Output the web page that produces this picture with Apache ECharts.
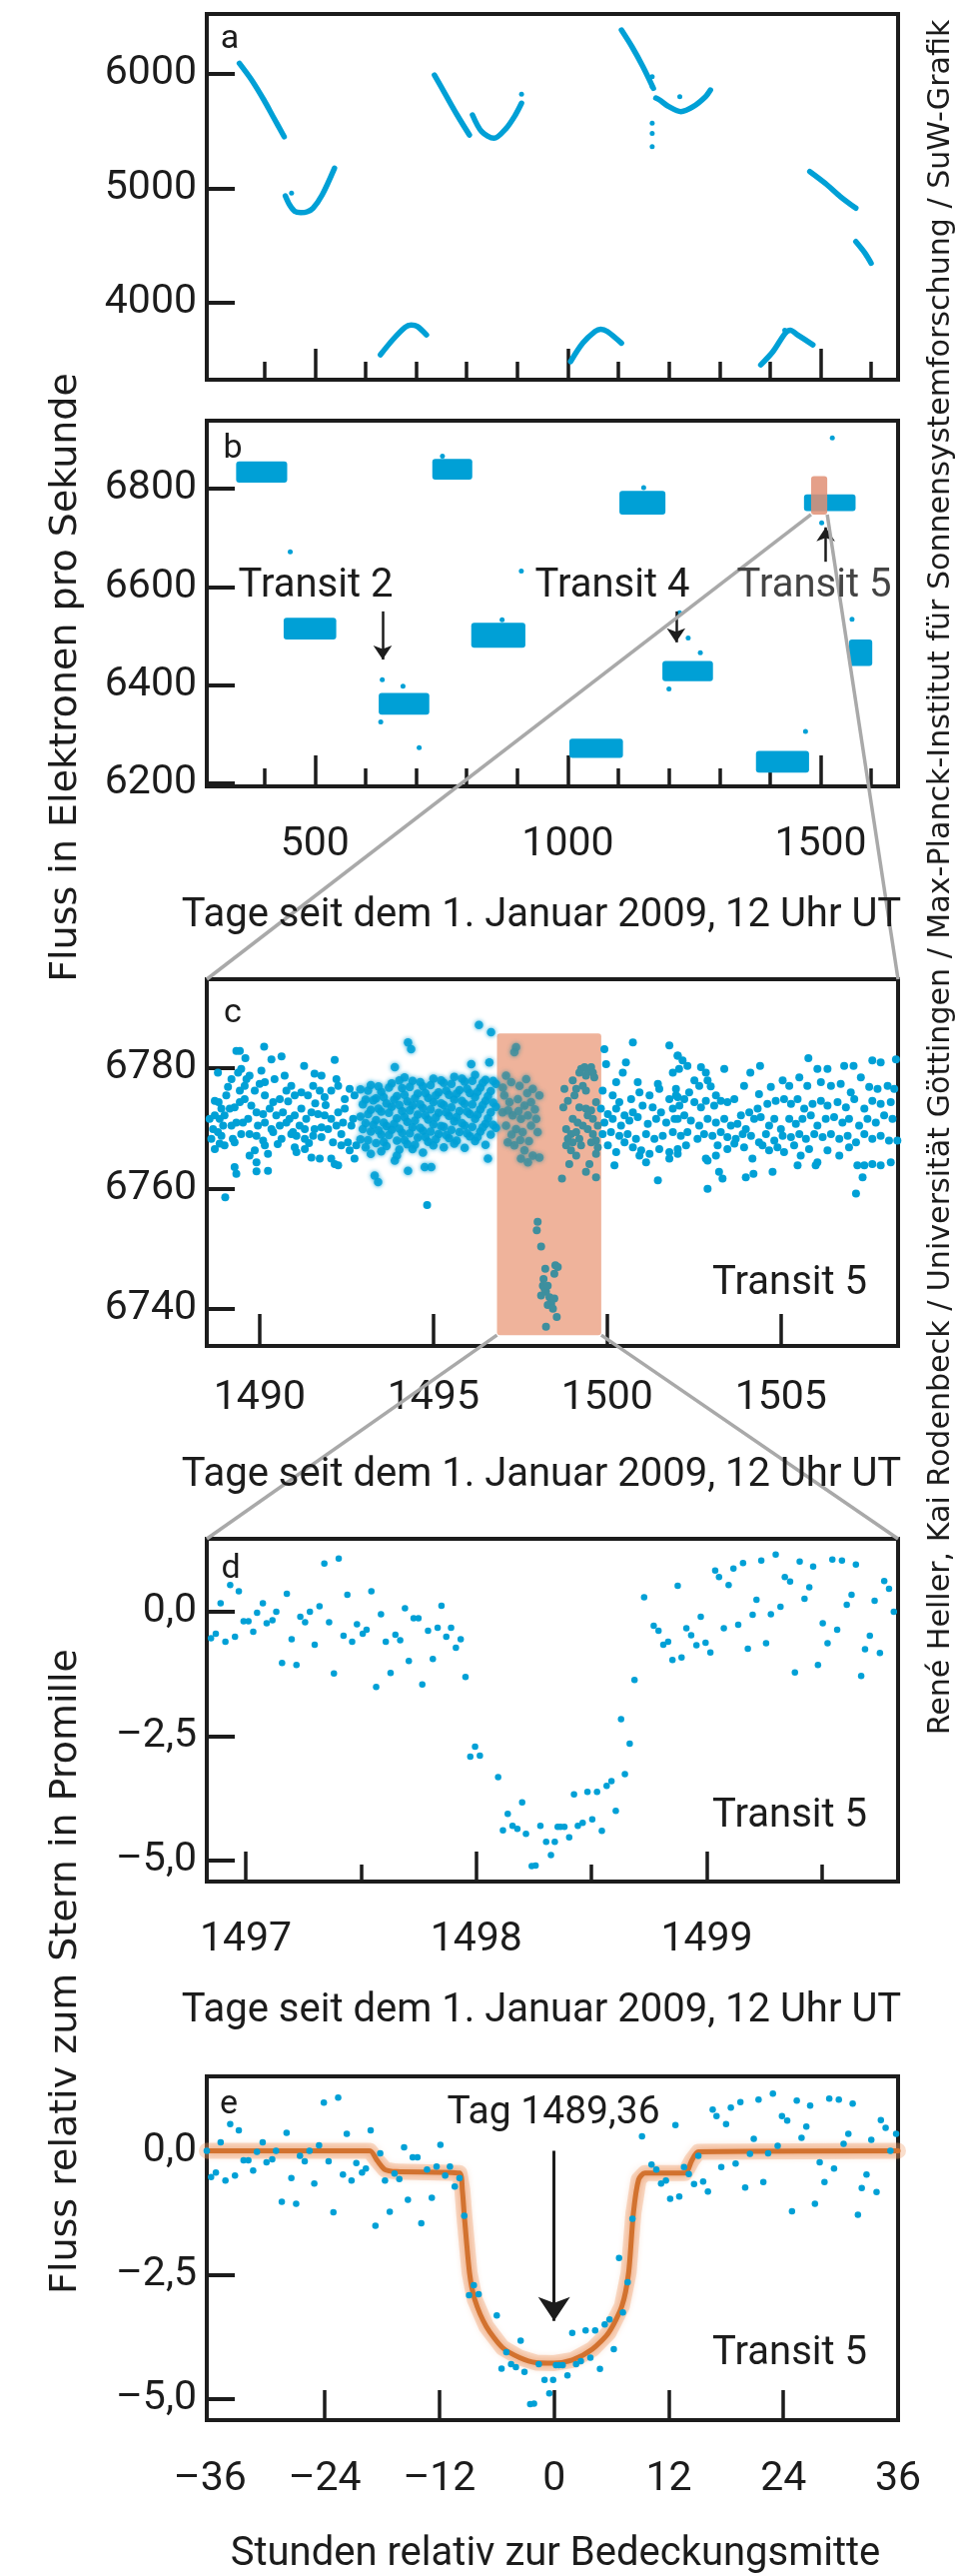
<!DOCTYPE html>
<html><head><meta charset="utf-8">
<script src="https://cdn.jsdelivr.net/npm/echarts@6/dist/echarts.min.js"></script>
<style>html,body{margin:0;padding:0;background:#fff}#c{width:958px;height:2578px}</style>
</head><body><div id="c"></div>
<script>
const BLUE = '#00a0d6', TEAL = '#3e8f9e', INK = '#1c1c1c', ORANGE_BOX = '#efb39b';

// ---------- Panel a : raw light curve segments (day, electrons/s)
const aQ1 = [[350.5,6093],[374.6,5948],[398.9,5773],[417.1,5627],[439.0,5452]];
const aQ2 = [[441.4,4934],[449.8,4856],[460,4800],[471.7,4789],[484,4795],[496.1,4827],[514.2,4943],[538.5,5176]];
const aQ3 = [[629.4,3546],[653.7,3677],[677.9,3785],[690,3805],[702.2,3794],[720.4,3720]];
const aQ4 = [[736.2,5991],[756.7,5831],[781.0,5642],[805.3,5467]];
const aQ5 = [[811.4,5642],[829.6,5496],[853.9,5438],[878.2,5526],[896.3,5642],[908.4,5744]];
const aQ6 = [[1005.5,3487],[1029.6,3648],[1053.9,3750],[1065,3770],[1078.2,3750],[1106.0,3648]];
const aQ7 = [[1106.0,6384],[1126.8,6238],[1148.5,6064],[1169.2,5875]];
const aQ7b = [[1174,5790],[1181.3,5773],[1199.5,5715],[1223.7,5671],[1248.0,5715],[1272.3,5802],[1282.0,5860]];
const aQ8 = [[1478.5,5147],[1508.9,5045],[1539.1,4928],[1569.5,4827]];
const aQ9 = [[1569.5,4535],[1587.7,4434],[1599.7,4347]];
const aQ10 = [[1381.5,3458],[1405.8,3575],[1429.9,3735],[1440,3760],[1454.2,3720],[1484.6,3633]];
const aDots = [[453.6,4958],[908.4,5823],[1166.8,5977],[1166.8,5889],[1166.8,5569],[1166.8,5365],[1166.8,5480],[1221.4,5802],[1429,3760]];

// ---------- Panel b : quarter blocks [day0, day1, fluxLow, fluxHigh]
const bBlocks = [
  [344,445,6812,6855],[438,542,6493,6537],[626,726,6340,6384],[732,811,6818,6860],
  [809,916,6476,6527],[1003,1109,6252,6291],[1102,1193,6747,6795],[1187,1287,6408,6449],
  [1372,1477,6222,6266],[1467,1569,6754,6788],[1556,1602,6439,6493]
];
const bOutliers = [[451,6671],[633,6411],[674,6398],[706,6273],[630,6325],[908,6632],[1221,6547],[1238,6496],
  [1200,6392],[1262,6466],[1523,6903],[1470,6306],[1562,6534],[1502,6730],[752,6866],[1150,6802],[870,6533]];
const bZoomBox = [1481,1513,6747,6825];

// ---------- Panel c : zoom on transit 5 (day, electrons/s)
const cBlue = [
[1488.80,6779.3],[1489.33,6782.9],[1489.43,6782.9],[1490.13,6783.6],[1489.59,6781.7],[1490.34,6781.5],[1490.63,6782.0],[1491.28,6780.4],[1492.16,6781.4],
[1488.82,6774.4],[1488.71,6774.6],[1488.90,6773.3],[1489.04,6775.5],[1489.19,6778.2],[1489.38,6779.3],[1489.47,6779.9],[1489.62,6778.2],[1489.71,6778.8],[1489.86,6776.3],[1490.05,6779.6],[1490.00,6777.4],[1490.15,6777.7],[1490.43,6778.2],[1490.72,6778.8],[1490.91,6777.1],[1490.77,6776.3],[1491.01,6775.5],[1491.20,6776.0],[1491.39,6775.5],[1491.58,6779.1],[1491.78,6778.8],[1491.54,6777.1],[1491.73,6776.3],[1491.87,6775.2],[1492.06,6776.3],[1492.21,6778.2],[1492.26,6777.1],[1492.45,6774.9],[1492.59,6776.6],[1492.73,6775.5],
[1488.71,6772.2],[1488.85,6771.6],[1488.99,6772.2],[1489.14,6773.3],[1489.28,6773.5],[1489.43,6774.4],[1489.57,6774.9],[1489.76,6773.8],[1489.91,6772.7],[1490.10,6772.4],[1490.29,6773.3],[1490.48,6772.2],[1490.67,6772.7],[1490.86,6771.6],[1491.01,6772.2],[1491.20,6773.3],[1491.34,6771.6],[1491.49,6772.7],[1491.68,6772.4],[1491.87,6772.2],[1492.06,6771.6],[1492.26,6772.7],[1492.45,6773.3],[1492.69,6771.6],
[1488.66,6769.9],[1488.80,6769.4],[1488.95,6770.5],[1489.19,6770.5],[1489.33,6771.0],[1489.52,6771.0],[1489.67,6771.6],[1489.95,6770.5],[1490.15,6771.0],[1490.34,6769.9],[1490.58,6770.5],[1490.77,6771.0],[1490.96,6769.4],[1491.15,6770.5],[1491.30,6769.9],[1491.58,6769.9],[1491.78,6770.2],[1491.97,6769.9],[1492.21,6770.5],[1492.40,6771.0],[1492.64,6770.5],
[1488.61,6768.3],[1488.90,6768.8],[1489.23,6768.3],[1489.47,6769.1],[1489.71,6769.1],[1489.91,6768.8],[1490.10,6768.0],[1490.39,6769.4],[1490.63,6768.3],[1490.91,6769.1],[1491.06,6768.8],[1491.30,6768.3],[1491.54,6768.8],[1491.78,6768.6],[1492.11,6767.7],[1492.35,6769.1],[1492.54,6767.7],[1492.78,6767.2],
[1488.71,6766.6],[1488.85,6767.5],[1488.99,6767.2],[1489.28,6767.7],[1489.86,6766.4],[1490.15,6767.2],[1490.24,6765.8],[1491.01,6766.9],[1491.06,6766.1],[1491.30,6766.6],[1491.49,6765.2],[1491.73,6765.0],[1492.06,6765.0],[1492.35,6767.2],[1492.59,6766.4],[1492.73,6765.0],[1492.16,6764.1],[1492.26,6763.9],
[1489.28,6763.6],[1489.33,6762.5],[1489.71,6765.5],[1489.91,6764.4],[1489.91,6762.9],[1490.24,6763.0],[1489.01,6758.6],
[1488.56,6771.6],[1489.43,6776.3],[1489.57,6777.1],[1490.15,6775.5],[1490.39,6774.4],[1490.58,6774.9],[1489.09,6776.9],[1490.52,6767.4],[1491.42,6767.6],[1491.90,6773.9],[1490.82,6774.5],[1491.60,6774.2],
[1499.92,6783.2],[1500.74,6784.3],[1501.79,6783.8],[1502.03,6782.1],[1499.97,6780.7],[1500.54,6781.0],[1500.45,6779.3],[1500.88,6777.7],[1500.26,6777.7],[1501.89,6779.3],[1501.46,6777.4],[1501.98,6776.6],
[1499.87,6776.3],[1500.16,6775.5],[1500.35,6774.4],[1500.69,6774.9],[1500.93,6776.0],[1501.22,6775.5],[1501.50,6776.6],[1501.79,6774.9],[1502.03,6775.2],
[1499.82,6773.3],[1500.02,6772.4],[1500.26,6773.3],[1500.50,6772.2],[1500.74,6772.7],[1501.02,6773.8],[1501.31,6773.5],[1501.55,6772.7],[1501.89,6773.3],[1502.08,6773.8],
[1499.92,6771.0],[1500.16,6771.6],[1500.40,6770.5],[1500.64,6771.3],[1500.88,6771.9],[1501.17,6770.8],[1501.41,6771.6],[1501.70,6771.0],[1501.94,6771.6],
[1499.87,6769.1],[1500.11,6769.4],[1500.35,6768.8],[1500.59,6769.1],[1500.83,6768.3],[1501.12,6769.1],[1501.36,6768.3],[1501.60,6768.8],[1501.89,6769.4],
[1500.02,6767.2],[1500.26,6766.1],[1500.50,6767.7],[1500.74,6766.9],[1500.98,6766.4],[1501.22,6765.8],[1501.50,6766.6],[1501.79,6766.1],[1502.03,6766.6],
[1500.21,6763.9],[1500.93,6765.5],[1501.12,6764.4],[1501.46,6761.4],[1501.79,6765.0],
[1502.03,6782.1],[1502.17,6781.3],[1502.07,6779.9],[1502.31,6780.4],[1502.70,6780.2],[1502.84,6779.3],[1503.37,6779.9],[1504.12,6779.3],[1504.40,6780.4],[1505.79,6781.7],[1506.05,6779.9],[1506.34,6779.9],[1506.82,6780.4],[1507.09,6780.4],[1507.63,6781.3],[1507.87,6781.0],[1508.31,6781.5],
[1502.51,6778.0],[1502.65,6777.1],[1502.89,6778.0],[1502.98,6777.0],[1503.13,6775.5],[1503.94,6777.1],[1504.37,6775.7],[1504.71,6776.9],[1505.05,6778.0],[1505.24,6777.1],[1505.53,6778.5],[1505.76,6777.1],[1506.15,6777.7],[1506.44,6777.1],[1506.72,6777.4],[1507.01,6776.0],[1507.30,6778.5],[1507.54,6776.9],[1507.78,6776.6],[1508.07,6777.1],[1508.26,6776.6],
[1501.98,6775.5],[1502.22,6774.9],[1502.36,6776.0],[1502.51,6774.4],[1502.70,6773.5],[1502.84,6774.6],[1503.08,6773.8],[1503.27,6774.6],[1503.46,6774.4],[1503.66,6774.9],[1503.85,6772.2],[1504.09,6772.7],[1504.33,6773.3],[1504.61,6774.1],[1504.85,6774.6],[1505.09,6774.9],[1505.29,6774.1],[1505.48,6774.9],[1505.67,6773.3],[1505.91,6774.1],[1506.15,6774.6],[1506.34,6773.8],[1506.63,6774.4],[1506.87,6773.5],[1507.11,6774.9],[1507.40,6773.3],[1507.63,6774.6],[1507.87,6774.1],[1508.16,6774.4],
[1502.03,6771.6],[1502.22,6772.2],[1502.41,6771.3],[1502.65,6770.5],[1502.89,6771.6],[1503.13,6771.0],[1503.37,6771.6],[1503.56,6770.5],[1503.75,6770.8],[1503.99,6769.9],[1504.23,6771.6],[1504.42,6771.9],[1504.66,6770.5],[1504.81,6771.6],[1505.00,6769.9],[1505.24,6771.6],[1505.43,6770.8],[1505.62,6771.6],[1505.86,6772.2],[1506.05,6770.5],[1506.29,6771.6],[1506.53,6771.9],[1506.77,6771.0],[1506.96,6771.6],[1507.25,6770.5],[1507.49,6771.6],[1507.73,6771.0],[1507.97,6772.2],[1508.21,6771.6],
[1502.12,6768.8],[1502.31,6769.4],[1502.60,6768.3],[1502.79,6769.1],[1503.03,6768.8],[1503.27,6769.4],[1503.46,6768.6],[1503.70,6768.3],[1503.90,6769.1],[1504.14,6768.8],[1504.37,6767.7],[1504.57,6769.1],[1504.81,6768.0],[1505.05,6768.8],[1505.29,6768.6],[1505.53,6769.1],[1505.72,6768.3],[1505.96,6769.1],[1506.20,6768.6],[1506.44,6769.1],[1506.68,6768.3],[1506.92,6768.8],[1507.16,6767.7],[1507.40,6769.1],[1507.63,6768.3],[1507.87,6768.8],[1508.11,6768.0],[1508.35,6768.0],
[1502.03,6765.8],[1502.27,6767.2],[1502.84,6765.0],[1503.13,6765.5],[1503.18,6767.2],[1503.46,6766.6],[1503.66,6767.5],[1503.94,6766.9],[1504.18,6765.0],[1504.47,6767.2],[1504.66,6766.4],[1504.90,6766.9],[1505.09,6766.1],[1505.38,6767.2],[1505.57,6765.5],[1505.81,6766.6],[1506.05,6764.4],[1506.34,6766.4],[1506.68,6765.5],[1506.96,6766.9],[1507.20,6763.9],[1507.40,6763.9],[1507.63,6764.1],[1507.87,6763.9],[1508.16,6764.4],
[1502.89,6764.7],[1503.22,6762.8],[1503.32,6761.7],[1503.99,6761.9],[1504.21,6762.5],[1504.76,6762.8],[1505.48,6763.9],[1506.00,6763.9],[1502.89,6760.0],[1507.16,6759.2],[1507.35,6761.9]
];
// blurred (re-sampled) part of the original figure
const cBlur = [
[1494.27,6784.3],[1494.36,6783.2],[1493.89,6780.2],[1494.17,6778.5],[1496.31,6787.2],[1496.66,6786.0],[1496.09,6780.7],[1496.61,6781.0],
[1493.31,6762.2],[1493.41,6761.1],[1493.89,6764.7],[1494.27,6763.0],[1494.75,6763.6],[1494.94,6763.6],[1496.57,6765.0],
[1492.90,6776.5],[1492.90,6772.0],[1492.90,6768.2],[1493.05,6774.8],[1493.05,6770.9],[1493.05,6766.9],
[1493.20,6777.2],[1493.20,6773.1],[1493.20,6769.5],[1493.20,6765.8],[1493.35,6775.0],[1493.35,6771.4],[1493.35,6767.6],
[1493.50,6776.1],[1493.50,6772.8],[1493.50,6769.0],[1493.50,6766.2],[1493.65,6774.2],[1493.65,6770.4],[1493.65,6767.1],
[1493.80,6777.5],[1493.80,6773.6],[1493.80,6769.8],[1493.95,6775.4],[1493.95,6771.7],[1493.95,6768.0],[1493.95,6765.5],
[1494.10,6776.7],[1494.10,6772.9],[1494.10,6769.3],[1494.25,6774.5],[1494.25,6771.1],[1494.25,6767.4],
[1494.40,6777.9],[1494.40,6773.8],[1494.40,6770.2],[1494.40,6766.6],[1494.55,6775.8],[1494.55,6772.3],[1494.55,6768.5],
[1494.70,6777.0],[1494.70,6773.4],[1494.70,6769.6],[1494.70,6766.0],[1494.85,6775.1],[1494.85,6771.5],[1494.85,6767.8],
[1495.00,6778.3],[1495.00,6774.4],[1495.00,6770.7],[1495.00,6767.2],[1495.15,6776.0],[1495.15,6772.6],[1495.15,6769.1],
[1495.30,6777.6],[1495.30,6773.9],[1495.30,6770.3],[1495.30,6766.9],[1495.45,6775.6],[1495.45,6772.1],[1495.45,6768.4],
[1495.60,6778.6],[1495.60,6774.8],[1495.60,6771.2],[1495.60,6767.5],[1495.75,6776.4],[1495.75,6772.9],[1495.75,6769.4],
[1495.90,6777.8],[1495.90,6774.1],[1495.90,6770.5],[1495.90,6766.8],[1496.05,6775.9],[1496.05,6772.4],[1496.05,6768.7],
[1496.20,6778.9],[1496.20,6775.2],[1496.20,6771.6],[1496.20,6767.9],[1496.35,6776.8],[1496.35,6773.2],[1496.35,6769.5],
[1496.50,6778.1],[1496.50,6774.6],[1496.50,6770.8],[1496.50,6767.3],[1496.65,6776.2],[1496.65,6772.7],[1496.65,6769.0],
[1496.80,6777.4],[1496.80,6773.6],[1496.80,6770.1],
[1492.97,6774.0],[1492.97,6769.9],[1493.12,6776.3],[1493.12,6772.4],[1493.12,6768.1],[1493.27,6774.7],[1493.27,6770.6],
[1493.42,6777.0],[1493.42,6773.3],[1493.42,6769.7],[1493.57,6775.2],[1493.57,6771.0],[1493.57,6767.8],[1493.72,6776.8],
[1493.72,6772.6],[1493.72,6768.9],[1493.87,6774.8],[1493.87,6770.8],[1494.02,6778.0],[1494.02,6773.9],[1494.02,6770.0],
[1494.02,6766.5],[1494.17,6775.6],[1494.17,6771.9],[1494.17,6768.1],[1494.32,6776.9],[1494.32,6773.0],[1494.32,6769.2],
[1494.47,6775.0],[1494.47,6771.3],[1494.47,6767.3],[1494.62,6777.7],[1494.62,6774.0],[1494.62,6770.1],[1494.77,6775.9],
[1494.77,6772.2],[1494.77,6768.6],[1494.92,6777.2],[1494.92,6773.2],[1494.92,6769.5],[1495.07,6775.5],[1495.07,6771.8],
[1495.07,6768.2],[1495.22,6778.0],[1495.22,6774.2],[1495.22,6770.4],[1495.37,6776.3],[1495.37,6772.7],[1495.37,6768.9],
[1495.52,6777.4],[1495.52,6773.5],[1495.52,6769.8],[1495.67,6775.8],[1495.67,6771.9],[1495.67,6768.0],[1495.82,6778.3],
[1495.82,6774.6],[1495.82,6770.9],[1495.97,6776.6],[1495.97,6772.8],[1495.97,6769.2],[1496.12,6777.9],[1496.12,6774.0],
[1496.12,6770.3],[1496.27,6776.1],[1496.27,6772.3],[1496.27,6768.6],[1496.42,6777.6],[1496.42,6773.9],[1496.42,6770.2],
[1496.57,6775.4],[1496.57,6771.7],[1496.72,6777.9],[1496.72,6774.3],[1496.72,6770.6]
];
const cPoint = [[1494.82,6757.3]];
const cTealBlur = [
[1497.38,6783.5],[1497.33,6782.7],[1497.09,6778.8],[1497.24,6777.7],[1497.48,6777.1],[1497.67,6778.2],[1497.86,6776.6],
[1497.04,6775.5],[1497.19,6774.4],[1497.43,6774.9],[1497.62,6773.8],[1497.81,6774.4],[1498.05,6775.5],
[1496.99,6772.7],[1497.28,6772.2],[1497.52,6771.6],[1497.72,6772.2],[1497.96,6771.6],
[1497.09,6770.5],[1497.38,6769.9],[1497.57,6769.4],[1497.81,6770.5],[1498.00,6769.4],
[1497.14,6767.7],[1497.33,6767.2],[1497.62,6766.4],[1497.86,6765.5],[1497.52,6765.0],[1498.05,6765.2],[1497.72,6764.4],
[1497.00,6776.8],[1497.15,6773.0],[1497.45,6772.9],[1497.70,6775.9],[1497.92,6773.2],[1497.25,6769.0],[1497.50,6768.1],[1497.75,6767.9]
];
const cTeal = [
[1498.77,6776.6],[1498.74,6773.5],[1498.87,6774.6],[1499.01,6778.0],[1499.11,6776.6],[1499.20,6779.3],[1499.25,6779.9],[1499.35,6780.2],[1499.39,6778.8],[1499.44,6779.6],[1499.54,6780.2],[1499.59,6779.3],[1499.63,6778.5],
[1499.30,6777.1],[1499.39,6776.3],[1499.06,6775.5],[1499.20,6773.5],[1499.39,6773.3],[1499.54,6773.0],[1499.68,6774.4],
[1499.01,6771.6],[1499.15,6771.0],[1499.30,6770.5],[1499.44,6772.2],[1499.59,6771.6],[1499.73,6770.5],
[1498.82,6769.9],[1498.96,6769.1],[1499.11,6769.4],[1498.87,6768.3],[1499.01,6767.7],[1499.20,6768.3],[1499.44,6769.9],[1499.59,6769.1],[1499.68,6768.0],
[1498.82,6767.2],[1498.96,6766.4],[1499.11,6765.5],[1499.25,6767.2],[1499.54,6767.7],[1499.73,6766.9],
[1498.91,6764.1],[1499.39,6762.8],[1499.49,6764.1],[1499.68,6761.9],[1498.70,6761.7],[1499.68,6765.8],
[1498.00,6754.5],[1497.975,6753.1],[1498.10,6750.4],[1498.22,6746.7],[1498.51,6747.3],[1498.58,6747.0],[1498.48,6745.9],
[1498.17,6745.0],[1498.15,6743.9],[1498.10,6742.3],[1498.24,6742.9],[1498.34,6742.0],[1498.48,6741.8],[1498.39,6740.9],
[1498.29,6740.7],[1498.44,6740.1],[1498.55,6738.7],[1498.24,6737.1],[1498.20,6743.4],[1498.29,6743.9]
];
const cZoomBox = [1496.83,1499.83,6735.7,6785.8];

// ---------- Panels d and e : transit 5, hours from mid-transit, flux in per mille
const transitMidDay = 1498.345;
const transitPoints = [
[-36.35,0.0],[-35.9,-0.53],[-35.4,-0.44],[-34.9,0.17],[-34.4,-0.6],[-33.9,0.54],[-33.4,-0.5],[-33.0,0.41],[-32.5,-0.19],[-32.0,-0.19],
[-31.5,-0.4],[-31.1,-0.02],[-30.5,0.17],[-30.1,-0.23],[-29.5,-0.17],[-29.1,0.0],[-28.5,-1.03],[-28.0,0.36],[-27.5,-0.55],[-27.0,-1.07],
[-26.6,-0.1],[-26.1,-0.21],[-25.6,0.0],[-25.1,-0.66],[-24.6,0.11],[-24.1,0.97],[-23.6,-0.21],[-23.1,-1.24],[-22.6,1.07],[-22.1,-0.48],
[-21.7,0.34],[-21.2,-0.6],[-20.7,-0.25],[-20.1,-0.44],[-19.7,-0.36],[-19.2,0.41],[-18.7,-1.51],[-18.2,-0.05],[-17.7,-0.6],[-17.2,-1.23],
[-16.7,-0.46],[-16.2,-0.57],[-15.7,0.07],[-15.3,-0.99],[-14.8,-0.13],[-14.3,-0.13],[-13.9,-1.46],[-13.3,-0.38],[-12.8,-0.95],[-12.3,-0.32],
[-11.9,0.12],[-11.4,-0.5],[-10.9,-0.32],[-10.4,-0.72],[-9.9,-0.55],[-9.4,-1.31],[-8.9,-2.91],[-8.4,-2.71],[-7.9,-2.89],[-6.0,-3.32],
[-5.5,-4.39],[-5.0,-4.06],[-4.5,-4.3],[-4.0,-4.36],[-3.5,-3.83],[-3.1,-4.46],[-2.5,-5.11],[-2.1,-5.1],[-1.6,-4.3],[-1.0,-4.62],
[-0.5,-4.89],[-0.1,-4.62],[0.2,-4.32],[0.5,-4.32],[0.9,-4.32],[1.4,-4.53],[1.9,-3.67],[2.3,-4.3],[2.8,-4.24],[3.3,-3.62],
[3.8,-4.17],[4.3,-3.62],[4.8,-4.4],[5.3,-3.5],[5.8,-3.4],[6.25,-4.0],[6.8,-2.16],[7.2,-3.26],[7.7,-2.65],[8.2,-1.37],
[9.2,0.29],[10.2,-0.28],[10.7,-0.38],[11.2,-0.66],[11.7,-0.6],[12.15,-0.97],[12.7,0.52],[13.1,-0.92],[13.6,-0.33],[14.1,-0.47],
[14.65,-0.67],[15.1,-0.1],[15.6,-0.62],[16.1,-0.82],[16.6,0.83],[17.0,0.7],[17.5,-0.33],[18.0,0.54],[18.5,0.87],[19.0,-0.26],
[19.5,0.98],[20.0,-0.74],[20.5,-0.06],[20.9,0.24],[21.4,1.03],[21.9,-0.63],[22.4,-0.05],[22.9,1.15],[23.4,0.1],[23.85,0.7],
[24.4,0.61],[24.9,-1.22],[25.4,1.01],[25.9,0.26],[26.4,0.49],[26.8,0.91],[27.3,-1.07],[27.8,-0.23],[28.3,-0.63],[28.8,1.05],
[29.3,-0.36],[29.8,1.03],[30.3,0.14],[30.8,0.34],[31.25,0.95],[31.8,-1.29],[32.2,-0.75],[32.7,-0.48],[33.2,0.22],[33.75,-0.83],
[34.2,0.62],[34.7,0.46],[35.2,0.0],[35.8,0.34]
];
const transitModel = [
[-36.35,0],[-19.3,0],[-18.5,-0.2],[-17.7,-0.38],[-16.5,-0.42],[-9.9,-0.45],[-9.6,-0.8],[-9.4,-1.3],[-8.85,-2.46],[-8.3,-3.0],
[-7.1,-3.54],[-5.4,-3.97],[-3.6,-4.17],[-1.9,-4.27],[0,-4.28],[1.9,-4.22],[4.0,-4.0],[5.7,-3.67],[7.1,-3.13],[7.8,-2.46],
[8.3,-1.26],[8.85,-0.58],[9.5,-0.45],[13.7,-0.45],[14.4,-0.2],[15.1,-0.02],[36,0]
];

// ---------- tick values
const tickA_y = [4000,5000,6000];
const tickB_y = [6200,6400,6600,6800];
const tickAB_xMajor = [500,1000,1500];
const tickAB_xMinor = [400,600,700,800,900,1100,1200,1300,1400,1600];
const tickC_y = [6740,6760,6780];
const tickC_x = [1490,1495,1500,1505];
const tickDE_y = [-5,-2.5,0];
const tickD_xMajor = [1497,1498,1499];
const tickD_xMinor = [1497.5,1498.5,1499.5];
const tickE_xLabels = [-36,-24,-12,0,12,24,36];
const tickE_x = [-24,-12,0,12,24];

// ---------- layout
const G = [
  {left:207, top:14, width:692, height:366},
  {left:207, top:421, width:692, height:366},
  {left:207, top:980, width:692, height:367},
  {left:207, top:1540, width:692, height:343},
  {left:207, top:2078, width:692, height:344}
];
const grids = G.map(g => Object.assign({show:true, borderColor:INK, borderWidth:4, backgroundColor:'transparent', containLabel:false}, g));
const LBL = {color:INK, fontFamily:'Roboto', fontSize:41};
const dash = v => (v < 0 ? '\u2013' : '') + Math.abs(v);
const dec = v => (v < 0 ? '\u2013' : '') + Math.abs(v).toFixed(1).replace('.', ',');

function xAx(gi, min, max, ticks, labels, len, margin, fmt) {
  return {type:'value', gridIndex:gi, min, max, position:'bottom', splitLine:{show:false},
    axisLine:{show:false, onZero:false},
    axisTick:{show:true, inside:true, length:len, customValues:ticks, lineStyle:{color:INK, width:3.5}},
    axisLabel: labels ? Object.assign({show:true, margin, customValues:labels, formatter:fmt || (v => '' + v)}, LBL) : {show:false}};
}
function yAx(gi, min, max, ticks, fmt) {
  return {type:'value', gridIndex:gi, min, max, position:'left', splitLine:{show:false}, axisLine:{show:false, onZero:false},
    axisTick:{show:true, inside:true, length:28, customValues:ticks, lineStyle:{color:INK, width:4}},
    axisLabel:Object.assign({show:true, margin:10, customValues:ticks, formatter:fmt || (v => '' + v)}, LBL)};
}

const xAxes = [
  xAx(0, 286, 1653, tickAB_xMajor, null, 31, 0),
  xAx(0, 286, 1653, tickAB_xMinor, null, 18, 0),
  xAx(1, 286, 1653, tickAB_xMajor, tickAB_xMajor, 31, 38),
  xAx(1, 286, 1653, tickAB_xMinor, null, 18, 0),
  xAx(2, 1488.48, 1508.37, tickC_x, tickC_x, 32, 32),
  xAx(3, 1496.831, 1499.83, tickD_xMajor, tickD_xMajor, 30, 38),
  xAx(3, 1496.831, 1499.83, tickD_xMinor, null, 17, 0),
  xAx(4, -36.35, 36, tickE_x, tickE_xLabels, 30, 39, dash)
];
const yAxes = [
  yAx(0, 3328, 6524, tickA_y),
  yAx(1, 6194, 6938, tickB_y),
  yAx(2, 6733.9, 6794.8, tickC_y),
  yAx(3, -5.42, 1.466, tickDE_y, dec),
  yAx(4, -5.43, 1.5, tickDE_y, dec)
];

function rectSeries(xi, yi, data, color, z, opacity) {
  return {type:'custom', xAxisIndex:xi, yAxisIndex:yi, z, silent:true, clip:false,
    renderItem(params, api) {
      const p0 = api.coord([api.value(0), api.value(3)]);
      const p1 = api.coord([api.value(1), api.value(2)]);
      return {type:'rect', shape:{x:p0[0], y:p0[1], width:p1[0]-p0[0], height:p1[1]-p0[1], r:3},
        style:{fill:color, opacity:opacity == null ? 1 : opacity}};
    },
    encode:{x:[0,1], y:[2,3]}, data};
}
function scat(xi, yi, data, size, color, z, extra) {
  return Object.assign({type:'scatter', xAxisIndex:xi, yAxisIndex:yi, data, symbolSize:size, z:z || 3, silent:true,
    itemStyle:{color, opacity:1}}, extra || {});
}
function seg(data) {
  return {type:'line', xAxisIndex:0, yAxisIndex:0, data, showSymbol:false, silent:true, smooth:0.3, z:3,
    lineStyle:{color:BLUE, width:5.5, cap:'round', join:'round'}};
}
const arrowMark = (lines, w, size) => ({silent:true, symbol:['none','arrow'], symbolSize:size, animation:false,
  label:{show:false}, lineStyle:{color:INK, width:w, type:'solid', opacity:1},
  data: lines.map(l => [{coord:[l[0], l[1]]}, {coord:[l[0], l[2]]}])});

const series = [
  seg(aQ1), seg(aQ2), seg(aQ3), seg(aQ4), seg(aQ5), seg(aQ6), seg(aQ7), seg(aQ7b), seg(aQ8), seg(aQ9), seg(aQ10),
  scat(0, 0, aDots, 5, BLUE),
  rectSeries(2, 1, bBlocks, BLUE, 2, 1),
  scat(2, 1, bOutliers, 5, BLUE, 3, {markLine: arrowMark([[633.7,6550,6452],[1214,6550,6487],[1510,6651,6721]], 2.5, 14)}),
  rectSeries(2, 1, [bZoomBox], '#e08f74', 4, 0.85),
  rectSeries(4, 2, [cZoomBox], ORANGE_BOX, 1, 1),
  scat(4, 2, cBlue, 8, BLUE, 3),
  scat(4, 2, cBlur, 8.5, BLUE, 3, {itemStyle:{color:BLUE, opacity:0.85, shadowBlur:4, shadowColor:BLUE}}),
  scat(4, 2, cPoint, 8, BLUE, 3),
  scat(4, 2, cTealBlur, 8.5, TEAL, 3, {itemStyle:{color:TEAL, opacity:0.8, shadowBlur:4, shadowColor:TEAL}}),
  scat(4, 2, cTeal, 8, TEAL, 3),
  scat(5, 3, transitPoints.map(p => [transitMidDay + p[0] / 24, p[1]]), 6.5, BLUE, 3),
  {type:'line', xAxisIndex:7, yAxisIndex:4, data:transitModel, showSymbol:false, silent:true, z:1,
    lineStyle:{color:'rgba(240,160,110,0.35)', width:16, cap:'round', join:'round'}},
  {type:'line', xAxisIndex:7, yAxisIndex:4, data:transitModel, showSymbol:false, silent:true, z:2, smooth:0.25,
    lineStyle:{color:'#d2722f', width:5, cap:'round', join:'round', shadowBlur:8, shadowColor:'rgba(230,130,70,0.9)'}},
  scat(7, 4, transitPoints, 6.5, BLUE, 3, {markLine: arrowMark([[0,0,-3.43]], 3, 24)})
];

const chart = echarts.init(document.getElementById('c'), null, {renderer:'canvas'});
chart.setOption({animation:false, backgroundColor:'#fff', grid:grids, xAxis:xAxes, yAxis:yAxes, series});

const T = (text, x, y, font, extra) => Object.assign({type:'text', x, y, z:100, silent:true,
  style:{text, fill:INK, font, align:'center', verticalAlign:'middle'}}, extra || {});
const F40 = '40px Roboto';
const TR = (text, x, y, fill) => T(text, x, y, F40, {style:{text, fill, font:F40, align:'right', verticalAlign:'middle'}});
const graphics = [
  T('a', 230, 39, '34px Roboto'), T('b', 233, 449, '34px Roboto'), T('c', 233, 1014, '34px Roboto'),
  T('d', 231, 1570, '34px Roboto'), T('e', 229, 2106, '34px Roboto'),
  T('Tage seit dem 1. Januar 2009, 12 Uhr UT', 542, 917, F40),
  T('Tage seit dem 1. Januar 2009, 12 Uhr UT', 542, 1477, F40),
  T('Tage seit dem 1. Januar 2009, 12 Uhr UT', 542, 2013, F40),
  T('Stunden relativ zur Bedeckungsmitte', 556, 2557, F40),
  T('Transit 2', 316, 587, F40), T('Transit 4', 613, 587, F40),
  T('Transit 5', 815, 587, F40, {style:{text:'Transit 5', fill:'#444', font:F40, align:'center', verticalAlign:'middle'}}),
  TR('Transit 5', 868, 1285, INK), TR('Transit 5', 868, 1818, INK), TR('Transit 5', 868, 2356, INK),
  T('Tag 1489,36', 554, 2115, '39px Roboto'),
  T('Fluss in Elektronen pro Sekunde', 66, 678, '38px "DejaVu Sans"', {rotation:Math.PI/2}),
  T('Fluss relativ zum Stern in Promille', 66, 1973, '38px "DejaVu Sans"', {rotation:Math.PI/2}),
  T('René Heller, Kai Rodenbeck / Universität Göttingen / Max-Planck-Institut für Sonnensystemforschung / SuW-Grafik',
    942, 878, '30.1px "DejaVu Sans"', {rotation:Math.PI/2})
];
const bBoxSeries = 14, cBoxSeries = 15;
const px = (si, pt) => chart.convertToPixel({seriesIndex:si}, pt);
const bL = px(bBoxSeries, [bZoomBox[0], bZoomBox[2]]), bR = px(bBoxSeries, [bZoomBox[1], bZoomBox[2]]);
const cL = px(cBoxSeries, [cZoomBox[0], cZoomBox[2]]), cR = px(cBoxSeries, [cZoomBox[1], cZoomBox[2]]);
const L = (a, b) => ({type:'line', z:50, silent:true, shape:{x1:a[0], y1:a[1], x2:b[0], y2:b[1]},
  style:{stroke:'#a9a9a9', lineWidth:3.5}});
graphics.push(
  L(bL, [G[2].left, G[2].top]), L(bR, [G[2].left + G[2].width, G[2].top]),
  L(cL, [G[3].left, G[3].top]), L(cR, [G[3].left + G[3].width, G[3].top])
);
chart.setOption({graphic: graphics});
</script>
</body></html>
